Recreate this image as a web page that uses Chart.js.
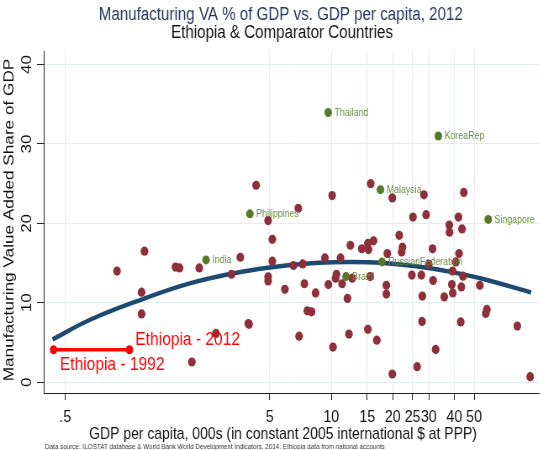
<!DOCTYPE html>
<html>
<head>
<meta charset="utf-8">
<script src="https://cdn.jsdelivr.net/npm/chart.js@4.4.1/dist/chart.umd.min.js"></script>
<style>
  html, body { margin: 0; padding: 0; background: #fff; }
  /* el original esta comprimido en horizontal: se dibuja mas ancho y se encoge con CSS */
  #grafico { width: 543px !important; height: 450px !important; display: block; }
</style>
</head>
<body>
<canvas id="grafico" width="646" height="450"></canvas>
<script>
// valores (x = PIB per capita en miles, y = % manufactura)
const redX = [4.29, 4.91, 15.6, 10.1, 19.9, 28.4, 44.5, 6.9, 25.1, 29.1, 41.9, 37.8, 43.6, 37.9, 21.5, 22.3, 22.1, 31.3, 42.2,
  12.4, 14.1, 15.1, 16.1, 15.2, 18.8, 9.31, 11.1, 6.53, 7.25, 30.0, 40.7, 39.2, 44.1, 24.8, 27.6, 31.5, 10.6, 10.5, 11.3,
  12.65, 15.5, 9.68, 7.39, 5.93, 8.38, 18.6, 18.6, 38.9, 39.3, 43.3, 53.3, 12.0, 27.9, 35.7, 7.64, 8.01, 57.7, 57.0, 27.8,
  43.0, 81.3, 15.1, 12.2, 6.96, 16.7, 10.2, 32.4, 26.3, 19.9, 94.0, 5.15, 1.22, 0.895, 1.73, 1.81, 2.26, 3.59, 3.25, 5.15,
  4.91, 4.91, 1.18, 1.18, 3.93, 3.96, 2.73, 2.08];
const redY = [24.8, 20.35, 25.0, 23.5, 23.2, 23.6, 23.9, 21.9, 20.8, 21.1, 20.8, 19.8, 19.3, 18.9, 18.5, 17.0, 16.4, 16.8, 16.2,
  17.25, 16.8, 17.5, 17.8, 16.7, 16.2, 15.65, 15.65, 14.7, 14.9, 14.85, 15.15, 14.0, 13.35, 13.5, 13.5, 12.8, 13.6, 13.1, 12.4,
  13.1, 13.3, 12.3, 12.4, 11.7, 11.25, 12.2, 11.1, 12.3, 11.25, 12.0, 12.2, 10.55, 10.85, 10.75, 9.0, 8.87, 9.17, 8.67, 7.66,
  7.6, 7.07, 6.66, 6.07, 5.8, 5.3, 4.43, 4.14, 1.96, 1.04, 0.7, 18.0, 16.5, 14.0, 14.5, 14.4, 14.4, 15.74, 13.6, 15.24,
  13.27, 12.76, 11.34, 8.6, 7.4, 7.3, 6.15, 2.55];

const greenNames = ['Thailand', 'KoreaRep', 'Malaysia', 'Philippines', 'India', 'Singapore', 'RussianFederation', 'Brazil'];
const greenX = [9.66, 33.4, 17.4, 4.0, 2.44, 58.6, 17.7, 11.8];
const greenY = [33.96, 31.0, 24.25, 21.2, 15.4, 20.5, 15.15, 13.3];

const ethiopiaLabels = ['Ethiopia - 1992', 'Ethiopia - 2012'];
const ethiopiaX = [0.438, 1.03];
const ethiopiaY = [4.1, 4.1];

// curva de ajuste leida punto a punto
const fitX = [0.433, 0.665, 1.16, 2.03, 3.54, 6.0, 8.64, 12.5, 17.5, 26, 38.4, 55.4, 95];
const fitY = [5.4, 7.9, 10.35, 12.45, 13.85, 14.7, 15.05, 15.15, 15.05, 14.6, 13.9, 13.0, 11.3];

const xTickValues = [0.5, 5, 10, 15, 20, 25, 30, 40, 50];
const xTickLabels = ['.5', '5', '10', '15', '20', '25', '30', '40', '50'];
const yTickValues = [0, 10, 20, 30, 40];
const yTickLabels = ['0', '10', '20', '30', '40'];

const FONT = "'Liberation Sans', Arial, sans-serif";

function puntos(xs, ys) {
    return xs.map((x, i) => ({ x: x, y: ys[i] }));
}

// textos: titulos, ejes, etiquetas de paises y de Etiopia, nota de fuente
const textos = {
    id: 'textos',
    afterDatasetsDraw(chart) {
        const ctx = chart.ctx;
        ctx.save();
        ctx.textBaseline = 'middle';
        ctx.textAlign = 'left';

        const verdes = chart.getDatasetMeta(1).data;
        ctx.font = '10.5px ' + FONT;
        ctx.fillStyle = '#6b8c3e';
        verdes.forEach((p, i) => {
            ctx.fillText(greenNames[i], p.x + 7.5, p.y + 0.5);
        });

        const eti = chart.getDatasetMeta(0).data;
        ctx.font = '18.5px ' + FONT;
        ctx.fillStyle = '#ff0000';
        ctx.fillText(ethiopiaLabels[0], eti[0].x + 7.5, eti[0].y + 15.5);
        ctx.fillText(ethiopiaLabels[1], eti[1].x + 7, eti[1].y - 9.5);
        ctx.restore();
    },
    afterDraw(chart) {
        const ctx = chart.ctx;
        const yScale = chart.scales.y;
        ctx.save();
        ctx.textBaseline = 'middle';
        ctx.textAlign = 'center';

        ctx.font = '18px ' + FONT;
        ctx.fillStyle = '#27365f';
        ctx.fillText('Manufacturing VA % of GDP vs. GDP per capita, 2012', 334, 15);
        ctx.fillStyle = '#111';
        ctx.fillText('Ethiopia & Comparator Countries', 335.5, 33);

        ctx.font = '16.6px ' + FONT;
        ctx.fillText('GDP per capita, 000s (in constant 2005 international $ at PPP)', 336.7, 434.5);

        // etiquetas del eje y giradas
        ctx.font = '17px ' + FONT;
        yTickValues.forEach((v, i) => {
            ctx.save();
            ctx.translate(32.5, yScale.getPixelForValue(v));
            ctx.rotate(-Math.PI / 2);
            ctx.fillText(yTickLabels[i], 0, 0);
            ctx.restore();
        });

        ctx.save();
        ctx.translate(11.5, 220);
        ctx.rotate(-Math.PI / 2);
        ctx.font = '17.2px ' + FONT;
        ctx.fillText('Manufacturing Value Added Share of GDP', 0, 0);
        ctx.restore();

        ctx.textAlign = 'left';
        ctx.font = '7.5px ' + FONT;
        ctx.fillStyle = '#333';
        ctx.fillText('Data source: ILOSTAT database & World Bank World Development Indicators, 2014. Ethiopia data from national accounts', 53.5, 446.5);
        ctx.restore();
    }
};

new Chart(document.getElementById('grafico'), {
    type: 'scatter',
    data: {
        datasets: [
            {
                label: 'Ethiopia',
                data: puntos(ethiopiaX, ethiopiaY),
                showLine: true,
                borderColor: '#ff0000',
                backgroundColor: '#ff0000',
                borderWidth: 3.5,
                pointRadius: 4.5,
                pointBorderWidth: 0,
                order: 0
            },
            {
                label: 'Comparadores',
                data: puntos(greenX, greenY),
                backgroundColor: '#557a2a',
                borderWidth: 0,
                pointRadius: 4.5,
                order: 1
            },
            {
                label: 'Paises',
                data: puntos(redX, redY),
                backgroundColor: '#8e2f3c',
                borderWidth: 0,
                pointRadius: 4.6,
                order: 2
            },
            {
                label: 'Ajuste',
                data: puntos(fitX, fitY),
                showLine: true,
                borderColor: '#1c4a72',
                borderWidth: 4.5,
                pointRadius: 0,
                tension: 0.4,
                order: 3
            }
        ]
    },
    options: {
        responsive: false,
        devicePixelRatio: 1,
        animation: false,
        layout: { padding: { top: 51, right: 0, bottom: 6, left: 0 } },
        plugins: {
            legend: { display: false },
            tooltip: { enabled: false },
            title: { display: false }
        },
        scales: {
            x: {
                type: 'logarithmic',
                min: 0.392,
                max: 104,
                afterBuildTicks: function(scale) {
                    scale.ticks = xTickValues.map(v => ({ value: v }));
                },
                afterFit: function(scale) {
                    scale.height = 51;
                },
                ticks: {
                    autoSkip: false,
                    maxRotation: 0,
                    padding: 7,
                    color: '#111',
                    font: { family: FONT, size: 17 },
                    callback: function(value) {
                        const i = xTickValues.indexOf(value);
                        return i >= 0 ? xTickLabels[i] : '';
                    }
                },
                grid: {
                    color: '#e3ecef',
                    tickColor: '#222',
                    tickLength: 7
                },
                border: { color: '#222', width: 1 }
            },
            y: {
                type: 'linear',
                min: -1.35,
                max: 41.7,
                afterBuildTicks: function(scale) {
                    scale.ticks = yTickValues.map(v => ({ value: v }));
                },
                afterFit: function(scale) {
                    scale.width = 52;
                },
                ticks: { display: false },
                grid: {
                    color: '#e3ecef',
                    tickColor: '#222',
                    tickLength: 8
                },
                border: { color: '#222', width: 1 }
            }
        }
    },
    plugins: [textos]
});
</script>
</body>
</html>
